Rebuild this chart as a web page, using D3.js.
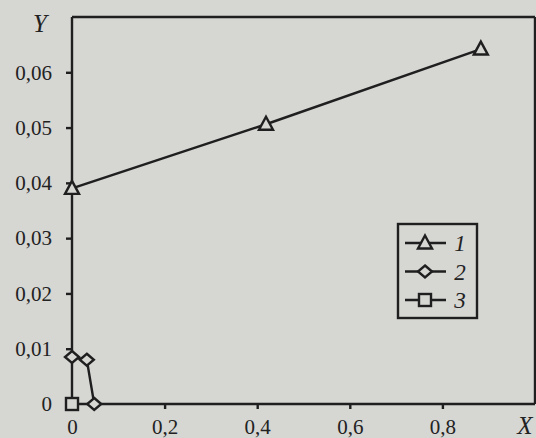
<!DOCTYPE html>
<html><head><meta charset="utf-8">
<script src="https://cdn.jsdelivr.net/npm/d3@7"></script>
<style>
html,body{margin:0;padding:0;background:#d6d6d3;}
svg{display:block;}
text{font-family:"Liberation Serif","Times New Roman",serif;fill:#222;}
</style></head><body>
<svg id="c" width="536" height="438"></svg>
<script>
const xTicks = [0, 0.2, 0.4, 0.6, 0.8];
const yTicks = [0, 0.01, 0.02, 0.03, 0.04, 0.05, 0.06];
const seriesNames = ["1", "2", "3"];
const s1x = [0, 0.419, 0.883];
const s1y = [0.039, 0.0506, 0.0642];
const s2x = [0, 0.032, 0.048];
const s2y = [0.0085, 0.008, 0];
const s3x = [0];
const s3y = [0];

const svg = d3.select("#c");
const bg = "#d6d6d3";
const x = d3.scaleLinear().domain([0, 1]).range([72, 535]);
const y = d3.scaleLinear().domain([0, 0.07]).range([404, 17]);
const fmt = d => d === 0 ? "0" : d3.format(".2f")(d).replace(".", ",");
const fmtx = d => d === 0 ? "0" : d3.format(".1f")(d).replace(".", ",");
const ink = "#1f1f1f";
const sw = 2.4;

// frame top/right
svg.append("line").attr("x1", x(0)).attr("x2", x(1)).attr("y1", y(0.07)).attr("y2", y(0.07)).attr("stroke", ink).attr("stroke-width", sw);
svg.append("line").attr("x1", x(1)).attr("x2", x(1)).attr("y1", y(0.07)).attr("y2", y(0)).attr("stroke", ink).attr("stroke-width", sw);

const ya = svg.append("g").attr("transform", `translate(${x(0)},0)`)
  .call(d3.axisLeft(y).tickValues(yTicks).tickFormat(fmt).tickSize(6).tickPadding(14));
const xa = svg.append("g").attr("transform", `translate(0,${y(0)})`)
  .call(d3.axisBottom(x).tickValues(xTicks).tickFormat(fmtx).tickSize(5).tickPadding(10));
[ya, xa].forEach(g => {
  g.select(".domain").attr("stroke", ink).attr("stroke-width", sw);
  g.selectAll(".tick line").attr("stroke", ink).attr("stroke-width", sw);
  g.selectAll(".tick text").attr("font-size", 21).attr("fill", "#222")
    .style("font-family", '"Liberation Serif",serif');
});
ya.select(".domain").attr("d", `M0,${y(0.07)}V${y(0)}`);
xa.select(".domain").attr("d", `M${x(0)},0H${x(1)}`);

svg.append("text").attr("x", 40).attr("y", 32).attr("text-anchor", "middle")
  .attr("font-size", 25).attr("font-style", "italic").text("Y");
svg.append("text").attr("x", 525).attr("y", 434).attr("text-anchor", "middle")
  .attr("font-size", 25).attr("font-style", "italic").text("X");

const line = d3.line();
function marker(g, type, cx, cy) {
  if (type === 0) {
    g.append("path").attr("d", `M${cx},${cy-7.5}L${cx+7},${cy+5.5}L${cx-7},${cy+5.5}Z`)
      .attr("fill", bg).attr("stroke", ink).attr("stroke-width", sw);
  } else if (type === 1) {
    g.append("path").attr("d", `M${cx},${cy-6}L${cx+7},${cy}L${cx},${cy+6}L${cx-7},${cy}Z`)
      .attr("fill", bg).attr("stroke", ink).attr("stroke-width", sw);
  } else {
    g.append("rect").attr("x", cx-6).attr("y", cy-6).attr("width", 12).attr("height", 12)
      .attr("fill", bg).attr("stroke", ink).attr("stroke-width", sw);
  }
}
const series = [[s1x, s1y], [s2x, s2y], [s3x, s3y]];
const plot = svg.append("g");
series.forEach(([xs, ys], i) => {
  const pts = xs.map((v, j) => [x(v), y(ys[j])]);
  if (pts.length > 1) plot.append("path").attr("d", line(pts)).attr("fill", "none").attr("stroke", ink).attr("stroke-width", sw);
  pts.forEach(p => marker(plot, i, p[0], p[1]));
});

// legend
const lg = svg.append("g");
lg.append("rect").attr("x", 398).attr("y", 224).attr("width", 79).attr("height", 94)
  .attr("fill", "none").attr("stroke", ink).attr("stroke-width", sw);
seriesNames.forEach((n, i) => {
  const cy = 243 + i * 28.5;
  lg.append("line").attr("x1", 405).attr("x2", 446).attr("y1", cy).attr("y2", cy).attr("stroke", ink).attr("stroke-width", sw);
  marker(lg, i, 425, cy);
  lg.append("text").attr("x", 460).attr("y", cy + 8).attr("text-anchor", "middle")
    .attr("font-size", 23).attr("font-style", "italic").text(n);
});
</script></body></html>
